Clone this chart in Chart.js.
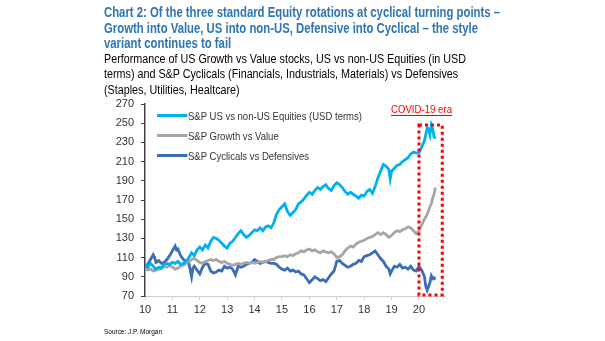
<!DOCTYPE html>
<html>
<head>
<meta charset="utf-8">
<script src="https://cdn.jsdelivr.net/npm/chart.js@4"></script>
<style>
  html, body { margin: 0; padding: 0; background: #fff; }
  body { width: 605px; height: 341px; position: relative; overflow: hidden;
         font-family: "Liberation Sans Narrow", "Liberation Sans", Arial, sans-serif; }
  #wrap { position: absolute; left: 0; top: 0; width: 605px; height: 341px; }
  .blk { position: absolute; transform-origin: 0 0; white-space: nowrap; }
  .blk > div { white-space: nowrap; }
  .blk span.t { display: inline-block; }
  .title { left: 104px; top: 5px; color: #2e75b6; font-weight: bold; font-size: 14px; line-height: 15.6px; }
  .sub { left: 104px; top: 52px; color: #000; font-size: 12.5px; line-height: 15.4px; }
  .src { left: 104px; top: 327px; color: #000; font-size: 8px; line-height: 9px; }
  .legend { left: 157px; top: 105.5px; font-size: 11px; color: #333; }
  .legend > div { height: 20.2px; display: flex; align-items: center; }
  .legend span.sw { display: inline-block; width: 30px; height: 3px; margin-right: 1px; }
  .covid { left: 391px; top: 103px; color: #ff0000; font-size: 11px; line-height: 13px; }
  .covid span.t { border-bottom: 1px solid #ff0000; line-height: 12px; }
</style>
</head>
<body>
<div id="wrap"><canvas id="c" width="605" height="341"></canvas></div>
<div class="blk title" data-w="396"><div><span class="t">Chart 2: Of the three standard Equity rotations at cyclical turning points –</span></div><div>Growth into Value, US into non-US, Defensive into Cyclical – the style</div><div>variant continues to fail</div></div>
<div class="blk sub" data-w="362"><div><span class="t">Performance of US Growth vs Value stocks, US vs non-US Equities (in USD</span></div><div>terms) and S&amp;P Cyclicals (Financials, Industrials, Materials) vs Defensives</div><div>(Staples, Utilities, Healtcare)</div></div>
<div class="blk legend" id="legend" data-w="174"></div>
<div class="blk covid" data-w="61"><span class="t">COVID-19 era</span></div>
<div class="blk src" data-w="58"><span class="t">Source: J.P. Morgan</span></div>
<script>
// Series names and colours
const seriesNames = [
  "S&P US vs non-US Equities (USD terms)",
  "S&P Growth vs Value",
  "S&P Cyclicals vs Defensives"
];
const seriesColors = ["#00b0f0", "#a6a6a6", "#3a6fb7"];

// Year tick labels (two-digit years)
const yearTicks = [10, 11, 12, 13, 14, 15, 16, 17, 18, 19, 20];
const yTicks = [70, 90, 110, 130, 150, 170, 190, 210, 230, 250, 270];

// COVID-19 window (years) and value span of the highlight box
const covidYears = [20.0, 20.85];
const covidValues = [71, 248];

// S&P US vs non-US Equities (USD terms): [year, index]
const usVsNonUs = [
  [10.0,103],[10.1,100],[10.2,104],[10.3,101],[10.4,98],[10.5,100],[10.6,99],[10.7,103],[10.8,104],[10.9,103],
  [11.0,105],[11.1,104],[11.2,106],[11.3,103],[11.4,104],[11.5,106],[11.6,110],[11.7,115],[11.8,112],[11.9,118],
  [12.0,121],[12.1,118],[12.2,123],[12.3,120],[12.4,127],[12.5,131],[12.6,130],[12.7,128],[12.8,125],[12.9,122],
  [13.0,120],[13.1,125],[13.2,127],[13.3,131],[13.4,135],[13.5,138],[13.6,134],[13.7,131],[13.8,133],[13.9,136],
  [14.0,139],[14.1,138],[14.2,141],[14.3,138],[14.4,142],[14.5,143],[14.6,141],[14.7,146],[14.8,155],[14.9,160],
  [15.0,163],[15.1,166],[15.2,158],[15.3,154],[15.4,157],[15.5,160],[15.6,166],[15.7,168],[15.8,171],[15.9,175],
  [16.0,178],[16.1,176],[16.2,180],[16.3,183],[16.4,181],[16.5,184],[16.6,186],[16.7,182],[16.8,180],[16.9,185],
  [17.0,188],[17.1,186],[17.2,183],[17.3,179],[17.4,176],[17.5,178],[17.6,176],[17.7,174],[17.8,172],[17.9,175],
  [18.0,174],[18.1,179],[18.2,181],[18.3,177],[18.4,184],[18.5,193],[18.6,200],[18.7,207],[18.8,205],[18.9,202],
  [18.95,192],[19.0,200],[19.1,203],[19.2,206],[19.3,207],[19.4,210],[19.5,212],[19.6,214],[19.7,218],[19.8,220],
  [19.9,219],[20.0,219],[20.1,225],[20.2,232],[20.3,245],[20.35,244],[20.4,238],[20.45,248],[20.5,244],[20.55,236],
  [20.6,234]
];

// S&P Growth vs Value
const growthVsValue = [
  [10.0,98],[10.1,97],[10.2,98],[10.3,96],[10.4,97],[10.5,98],[10.6,99],[10.7,101],[10.8,100],[10.9,102],
  [11.0,100],[11.1,98],[11.2,99],[11.3,101],[11.4,102],[11.5,104],[11.6,106],[11.7,108],[11.8,109],[11.9,107],
  [12.0,105],[12.1,104],[12.2,106],[12.3,107],[12.4,108],[12.5,107],[12.6,108],[12.7,106],[12.8,105],[12.9,106],
  [13.0,104],[13.1,103],[13.2,102],[13.3,103],[13.4,104],[13.5,103],[13.6,104],[13.7,105],[13.8,104],[13.9,105],
  [14.0,104],[14.1,105],[14.2,106],[14.3,105],[14.4,106],[14.5,107],[14.6,108],[14.7,108],[14.8,110],[14.9,111],
  [15.0,111],[15.1,112],[15.2,111],[15.3,113],[15.4,112],[15.5,114],[15.6,115],[15.7,117],[15.8,116],[15.9,118],
  [16.0,119],[16.1,117],[16.2,118],[16.3,116],[16.4,115],[16.5,117],[16.6,116],[16.7,115],[16.8,116],[16.9,114],
  [17.0,110],[17.1,111],[17.2,113],[17.3,117],[17.4,120],[17.5,122],[17.6,121],[17.7,124],[17.8,126],[17.9,127],
  [18.0,128],[18.1,130],[18.2,131],[18.3,132],[18.4,134],[18.5,136],[18.6,134],[18.7,136],[18.8,134],[18.9,131],
  [19.0,133],[19.1,136],[19.2,138],[19.3,137],[19.4,139],[19.5,140],[19.6,142],[19.7,141],[19.8,138],[19.9,135],
  [20.0,138],[20.1,144],[20.2,150],[20.3,155],[20.4,163],[20.45,166],[20.5,172],[20.55,176],[20.6,183]
];

// S&P Cyclicals vs Defensives
const cyclicalsVsDefensives = [
  [10.0,100],[10.1,103],[10.2,108],[10.3,113],[10.35,110],[10.4,105],[10.5,107],[10.6,104],[10.7,105],[10.8,108],
  [10.9,112],[11.0,117],[11.1,122],[11.15,118],[11.2,119],[11.3,112],[11.4,108],[11.5,106],[11.6,104],[11.7,90],
  [11.75,99],[11.8,101],[11.9,97],[12.0,93],[12.1,100],[12.2,104],[12.3,103],[12.4,96],[12.5,94],[12.6,95],
  [12.7,97],[12.8,96],[12.9,101],[13.0,99],[13.1,100],[13.2,98],[13.3,92],[13.4,101],[13.5,100],[13.6,101],
  [13.7,103],[13.8,104],[13.9,105],[14.0,108],[14.1,106],[14.2,104],[14.3,105],[14.4,106],[14.5,105],[14.6,104],
  [14.7,104],[14.8,103],[14.9,100],[15.0,98],[15.1,97],[15.2,99],[15.3,96],[15.4,97],[15.5,95],[15.6,96],
  [15.7,93],[15.8,92],[15.9,88],[16.0,84],[16.1,87],[16.2,90],[16.3,88],[16.4,86],[16.5,87],[16.6,85],
  [16.7,89],[16.8,93],[16.9,96],[17.0,106],[17.1,107],[17.2,104],[17.3,102],[17.4,100],[17.5,101],[17.6,103],
  [17.7,104],[17.8,107],[17.9,106],[18.0,111],[18.1,112],[18.2,113],[18.3,115],[18.4,117],[18.5,113],[18.6,109],
  [18.7,106],[18.8,101],[18.9,98],[18.95,93],[19.0,96],[19.1,101],[19.2,100],[19.3,103],[19.4,99],[19.5,100],
  [19.6,98],[19.7,101],[19.8,97],[19.9,96],[20.0,101],[20.1,97],[20.2,90],[20.25,80],[20.3,76],[20.35,80],
  [20.4,84],[20.45,91],[20.5,88],[20.55,89],[20.6,87]
];

const seriesData = [usVsNonUs, growthVsValue, cyclicalsVsDefensives];

// HTML legend (swatch + label)
const legendEl = document.getElementById('legend');
seriesNames.forEach((name, i) => {
  const row = document.createElement('div');
  const sw = document.createElement('span');
  sw.className = 'sw';
  sw.style.background = seriesColors[i];
  row.appendChild(sw);
  const t = document.createElement('span');
  if (i === 0) t.className = 't';
  t.textContent = name;
  row.appendChild(t);
  legendEl.appendChild(row);
});

// Condense each text block so its first line spans the given width
document.querySelectorAll('.blk[data-w]').forEach(el => {
  const ref = el.querySelector('span.t');
  const w = ref.getBoundingClientRect().width;
  const k = (+el.dataset.w) / w;
  el.style.transform = `scaleX(${k})`;
  if (el.id === 'legend') {
    // keep the swatches at full length
    el.querySelectorAll('span.sw').forEach(s => { s.style.width = (30 / k) + 'px'; s.style.marginRight = (1 / k) + 'px'; });
  }
});

// Red dotted box around the COVID-19 period
const covidBox = {
  id: 'covidBox',
  afterDatasetsDraw(chart) {
    const { ctx, scales: { x, y } } = chart;
    const l = x.getPixelForValue(covidYears[0]);
    const r = x.getPixelForValue(covidYears[1]);
    const t = y.getPixelForValue(covidValues[1]);
    const b = y.getPixelForValue(covidValues[0]);
    ctx.save();
    ctx.strokeStyle = '#ff0000';
    ctx.lineWidth = 3;
    ctx.setLineDash([3, 3]);
    ctx.strokeRect(l, t, r - l, b - t);
    ctx.restore();
  }
};

const tickFont = { size: 11, family: "'Liberation Sans Narrow', 'Liberation Sans', Arial, sans-serif" };

new Chart(document.getElementById('c'), {
  type: 'line',
  data: {
    datasets: seriesData.map((d, i) => ({
      label: seriesNames[i],
      data: d.map(p => ({ x: p[0], y: p[1] })),
      borderColor: seriesColors[i],
      borderWidth: 2.8,
      pointRadius: 0,
      tension: 0,
      fill: false
    }))
  },
  options: {
    responsive: false,
    animation: false,
    events: [],
    layout: { padding: { left: 100, top: 104, right: 160, bottom: 24 } },
    plugins: { legend: { display: false }, tooltip: { enabled: false } },
    scales: {
      x: {
        type: 'linear',
        min: yearTicks[0],
        max: 20.95,
        afterBuildTicks: (s) => { s.ticks = yearTicks.map(v => ({ value: v })); },
        afterFit: (s) => { s.height = 21; },
        ticks: { font: tickFont, color: '#333', padding: 3,
                 maxRotation: 0, autoSkip: false, callback: (v) => String(v) },
        grid: { display: true, drawOnChartArea: false, tickLength: 4, color: '#d0d0d0' },
        border: { color: '#d0d0d0', width: 1 }
      },
      y: {
        min: yTicks[0],
        max: yTicks[yTicks.length - 1],
        afterBuildTicks: (s) => { s.ticks = yTicks.map(v => ({ value: v })); },
        afterFit: (s) => { s.width = 45; },
        ticks: { font: tickFont, color: '#333', padding: 7 },
        grid: { display: true, drawOnChartArea: false, tickLength: 4, color: '#404040' },
        border: { color: '#404040', width: 1.5 }
      }
    }
  },
  plugins: [covidBox]
});
</script>
</body>
</html>
